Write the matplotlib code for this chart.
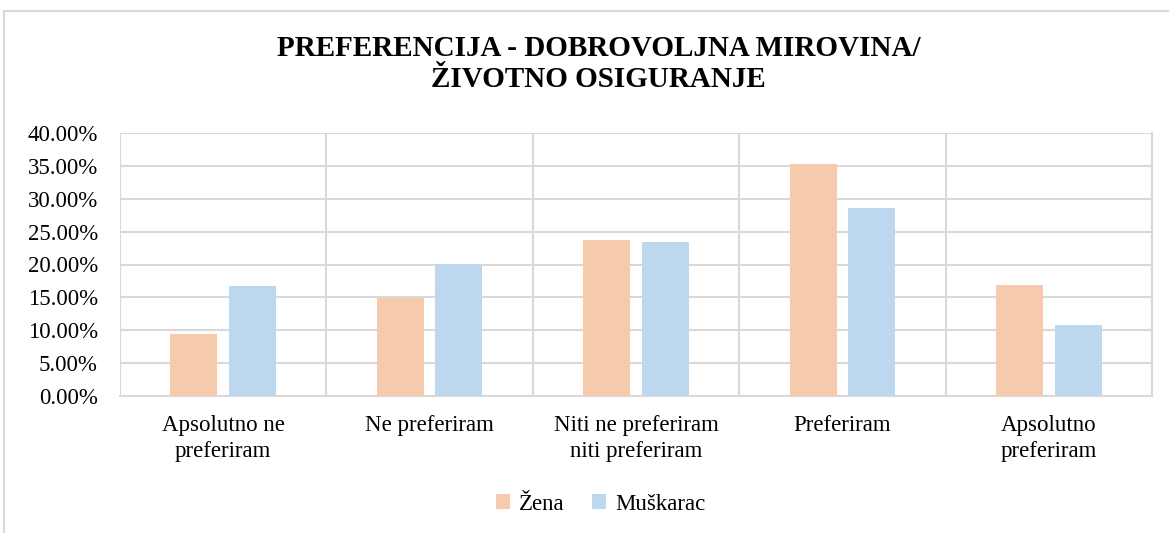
import numpy as np
import matplotlib.pyplot as plt
import matplotlib
from matplotlib.ticker import FuncFormatter, MultipleLocator

matplotlib.rcParams['font.family'] = ['Liberation Serif', 'DejaVu Serif']

categories = ['Apsolutno ne\npreferiram', 'Ne preferiram', 'Niti ne preferiram\nniti preferiram',
              'Preferiram', 'Apsolutno\npreferiram']
zena = [9.4, 14.9, 23.7, 35.3, 16.9]
muskarac = [16.7, 20.1, 23.4, 28.6, 10.8]

grid_col = '#D9D9D9'

fig = plt.figure(figsize=(11.69, 5.33), dpi=100)
ax = fig.add_axes([120/1169, 1-396/533, (1152-120)/1169, (396-133)/533])

x = np.arange(len(categories))
w = 0.228
ax.bar(x - 0.142, zena, w, color='#F6CBAD', label='Žena', zorder=3)
ax.bar(x + 0.142, muskarac, w, color='#BDD7EE', label='Muškarac', zorder=3)

ax.set_xlim(-0.5, len(categories) - 0.5)
ax.set_ylim(0, 40)
ax.yaxis.set_major_locator(MultipleLocator(5))
ax.yaxis.set_major_formatter(FuncFormatter(lambda v, p: f'{v:.2f}%'))
ax.set_xticks(x)
ax.set_xticklabels(categories, linespacing=1.3)
ax.set_xticks(np.arange(-0.5, len(categories)), minor=True)
ax.grid(axis='y', color=grid_col, lw=1.5, zorder=0)
ax.grid(axis='x', which='minor', color=grid_col, lw=1.5, zorder=0)
ax.tick_params(axis='both', which='both', length=0, labelsize=16.5)
ax.tick_params(axis='y', pad=16)
ax.tick_params(axis='x', pad=14)
for s in ['top', 'left']:
    ax.spines[s].set_visible(False)
ax.spines['right'].set_color(grid_col)
ax.spines['right'].set_linewidth(1.5)
ax.spines['bottom'].set_color(grid_col)
ax.spines['bottom'].set_linewidth(1.5)

fig.text(0.512, 1-64/533, 'PREFERENCIJA - DOBROVOLJNA MIROVINA/\nŽIVOTNO OSIGURANJE',
         ha='center', va='center', fontsize=21, fontweight='bold', linespacing=1.2)

fig.legend(loc='center', bbox_to_anchor=(0.514, 1-504/533), ncol=2, frameon=False,
           fontsize=16.5, handlelength=0.6, handleheight=0.6, handletextpad=0.4, columnspacing=1.2)

border = plt.Rectangle((4/1169, -0.01), 1.1, 1-11/533 + 0.01, transform=fig.transFigure,
                       fill=False, edgecolor=grid_col, lw=1.5)
fig.patches.append(border)

fig.savefig('out.png', dpi=100)
